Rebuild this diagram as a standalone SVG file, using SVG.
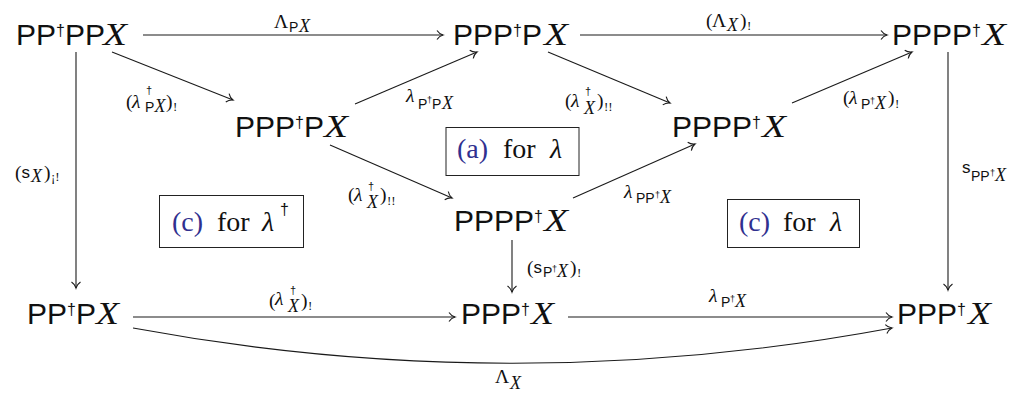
<svg xmlns="http://www.w3.org/2000/svg" width="1016" height="394" viewBox="0 0 1016 394">
<style>
.n{font-family:"Liberation Sans",Arial,sans-serif;font-size:30px;fill:#111}
.d{font-size:16px}
.x{font-family:"Liberation Serif","Times New Roman",serif;font-style:italic;font-size:32px;fill:#111}
.l{font-family:"Liberation Serif","Times New Roman",serif;font-size:19.5px;fill:#111}
.lam{font-style:italic}
.ss{font-family:"Liberation Sans",Arial,sans-serif;font-size:14px}
.sd{font-family:"Liberation Sans",Arial,sans-serif;font-size:9px}
.sl{font-family:"Liberation Sans",Arial,sans-serif;font-size:17px}
.si{font-style:italic;font-size:18px}
.ld{font-family:"Liberation Sans",Arial,sans-serif;font-size:11px}
.sb{font-size:13px}
.bt{font-family:"Liberation Serif","Times New Roman",serif;font-size:28px;fill:#111}
.bl{fill:#30308f}
.bx{fill:none;stroke:#222;stroke-width:1}
.e{fill:none;stroke:#1a1a1a;stroke-width:1.1;marker-end:url(#ah)}
</style>
<defs>
<marker id="ah" viewBox="-9 -6 12 12" markerWidth="12" markerHeight="12" refX="0" refY="0" orient="auto" markerUnits="userSpaceOnUse">
<path d="M-6,-4.5 C-4,-1.5 -1,-0.3 0,0 C-1,0.3 -4,1.5 -6,4.5" fill="none" stroke="#1a1a1a" stroke-width="1.1"/>
</marker>
</defs>

<g id="connectors">
<path class="e" d="M143,35 H443"/>
<path class="e" d="M580,35 H887"/>
<path class="e" d="M112,52 L233,100"/>
<path class="e" d="M355,104 L477,52"/>
<path class="e" d="M548,52 L670,103"/>
<path class="e" d="M792,103 L912,52"/>
<path class="e" d="M330,145 L452,198"/>
<path class="e" d="M573,198 L695,144"/>
<path class="e" d="M76,52 V288"/>
<path class="e" d="M512,240 V292"/>
<path class="e" d="M948,52 V290"/>
<path class="e" d="M133,317 H455"/>
<path class="e" d="M568,317 H892"/>
<path class="e" d="M133,328 C386,375 639,375 892,328"/>
</g>

<g id="labels">
<text class="l"><tspan x="274" y="28">Λ</tspan><tspan class="ss" x="289" y="32">P</tspan><tspan class="si" x="299" y="32">X</tspan></text>
<text class="l"><tspan x="706" y="27">(</tspan><tspan x="712" y="27">Λ</tspan><tspan class="si" x="727" y="31">X</tspan><tspan x="740" y="27">)</tspan><tspan class="sb" x="747" y="30">!</tspan></text>
<text class="l"><tspan x="126" y="108">(</tspan><tspan class="lam" x="132" y="108">λ</tspan><tspan class="ld" x="146" y="94">†</tspan><tspan class="ss" x="145" y="112">P</tspan><tspan class="si" x="154.5" y="112">X</tspan><tspan x="166" y="108">)</tspan><tspan class="sb" x="173" y="111">!</tspan></text>
<text class="l"><tspan class="lam" x="406" y="102">λ</tspan><tspan class="ss" x="418" y="109">P</tspan><tspan class="sd" x="427" y="103">†</tspan><tspan class="ss" x="432" y="109">P</tspan><tspan class="si" x="442" y="109">X</tspan></text>
<text class="l"><tspan x="565" y="107">(</tspan><tspan class="lam" x="571" y="107">λ</tspan><tspan class="ld" x="585" y="95">†</tspan><tspan class="si" x="584" y="114">X</tspan><tspan x="597" y="107">)</tspan><tspan class="sb" x="604" y="111">!!</tspan></text>
<text class="l"><tspan x="843" y="104">(</tspan><tspan class="lam" x="849" y="104">λ</tspan><tspan class="ss" x="861" y="109">P</tspan><tspan class="sd" x="870" y="104">†</tspan><tspan class="si" x="875" y="109">X</tspan><tspan x="888" y="104">)</tspan><tspan class="sb" x="895" y="108">!</tspan></text>
<text class="l"><tspan x="15" y="179">(</tspan><tspan class="sl" x="21.5" y="178">s</tspan><tspan class="si" x="31" y="182">X</tspan><tspan x="44" y="179">)</tspan><tspan class="sb" x="51" y="181">¡!</tspan></text>
<text class="l"><tspan x="348" y="201">(</tspan><tspan class="lam" x="354" y="201">λ</tspan><tspan class="ld" x="368" y="190">†</tspan><tspan class="si" x="367" y="208">X</tspan><tspan x="380" y="201">)</tspan><tspan class="sb" x="387" y="205">!!</tspan></text>
<text class="l"><tspan class="lam" x="624" y="198">λ</tspan><tspan class="ss" x="636" y="203">PP</tspan><tspan class="sd" x="655" y="198">†</tspan><tspan class="si" x="660" y="203">X</tspan></text>
<text class="l"><tspan x="527" y="274">(</tspan><tspan class="sl" x="533.5" y="273">s</tspan><tspan class="ss" x="543" y="277">P</tspan><tspan class="sd" x="552" y="272">†</tspan><tspan class="si" x="557" y="277">X</tspan><tspan x="570" y="274">)</tspan><tspan class="sb" x="577" y="277">!</tspan></text>
<text class="l"><tspan class="sl" x="962" y="173">s</tspan><tspan class="ss" x="971" y="181">PP</tspan><tspan class="sd" x="990" y="176">†</tspan><tspan class="si" x="995" y="181">X</tspan></text>
<text class="l"><tspan x="269" y="307">(</tspan><tspan class="lam" x="275" y="305">λ</tspan><tspan class="ld" x="290" y="294">†</tspan><tspan class="si" x="288" y="312">X</tspan><tspan x="301" y="307">)</tspan><tspan class="sb" x="308" y="310">!</tspan></text>
<text class="l"><tspan class="lam" x="709" y="302">λ</tspan><tspan class="ss" x="721" y="307">P</tspan><tspan class="sd" x="730" y="302">†</tspan><tspan class="si" x="735" y="307">X</tspan></text>
<text class="l"><tspan x="495" y="383">Λ</tspan><tspan class="si" x="510" y="389">X</tspan></text>
</g>

<g id="n-A"><text class="n" x="16" y="45">PP<tspan class="d" dy="-9">†</tspan><tspan dy="9">PP</tspan></text><text class="x" x="103" y="45" textLength="24" lengthAdjust="spacingAndGlyphs">X</text></g>
<g id="n-B"><text class="n" x="453" y="45">PPP<tspan class="d" dy="-9">†</tspan><tspan dy="9">P</tspan></text><text class="x" x="544" y="45" textLength="24" lengthAdjust="spacingAndGlyphs">X</text></g>
<g id="n-C"><text class="n" x="892" y="45">PPPP<tspan class="d" dy="-9">†</tspan></text><text class="x" x="982" y="45" textLength="24" lengthAdjust="spacingAndGlyphs">X</text></g>
<g id="n-D"><text class="n" x="235" y="137">PPP<tspan class="d" dy="-9">†</tspan><tspan dy="9">P</tspan></text><text class="x" x="324" y="137" textLength="24" lengthAdjust="spacingAndGlyphs">X</text></g>
<g id="n-E"><text class="n" x="672" y="137">PPPP<tspan class="d" dy="-9">†</tspan></text><text class="x" x="762" y="137" textLength="24" lengthAdjust="spacingAndGlyphs">X</text></g>
<g id="n-F"><text class="n" x="454" y="231">PPPP<tspan class="d" dy="-9">†</tspan></text><text class="x" x="544" y="231" textLength="24" lengthAdjust="spacingAndGlyphs">X</text></g>
<g id="n-G"><text class="n" x="27" y="324">PP<tspan class="d" dy="-9">†</tspan><tspan dy="9">P</tspan></text><text class="x" x="96" y="324" textLength="23" lengthAdjust="spacingAndGlyphs">X</text></g>
<g id="n-H"><text class="n" x="461" y="324">PPP<tspan class="d" dy="-9">†</tspan></text><text class="x" x="531" y="324" textLength="23" lengthAdjust="spacingAndGlyphs">X</text></g>
<g id="n-I"><text class="n" x="897" y="324">PPP<tspan class="d" dy="-9">†</tspan></text><text class="x" x="968" y="324" textLength="23" lengthAdjust="spacingAndGlyphs">X</text></g>

<g id="box-a"><rect class="bx" x="446" y="127.5" width="133" height="48"/><text class="bt"><tspan class="bl" x="457" y="158">(a)</tspan><tspan x="503" y="158">for</tspan><tspan class="lam" x="550" y="158">λ</tspan></text></g>
<g id="box-c1"><rect class="bx" x="159.5" y="195.5" width="144" height="52"/><text class="bt"><tspan class="bl" x="172" y="231">(c)</tspan><tspan x="217" y="231">for</tspan><tspan class="lam" x="262" y="231">λ</tspan><tspan class="ld" style="font-size:16px" x="280" y="215">†</tspan></text></g>
<g id="box-c2"><rect class="bx" x="727.5" y="199.5" width="132" height="48"/><text class="bt"><tspan class="bl" x="739" y="231">(c)</tspan><tspan x="783" y="231">for</tspan><tspan class="lam" x="830" y="231">λ</tspan></text></g>
</svg>
